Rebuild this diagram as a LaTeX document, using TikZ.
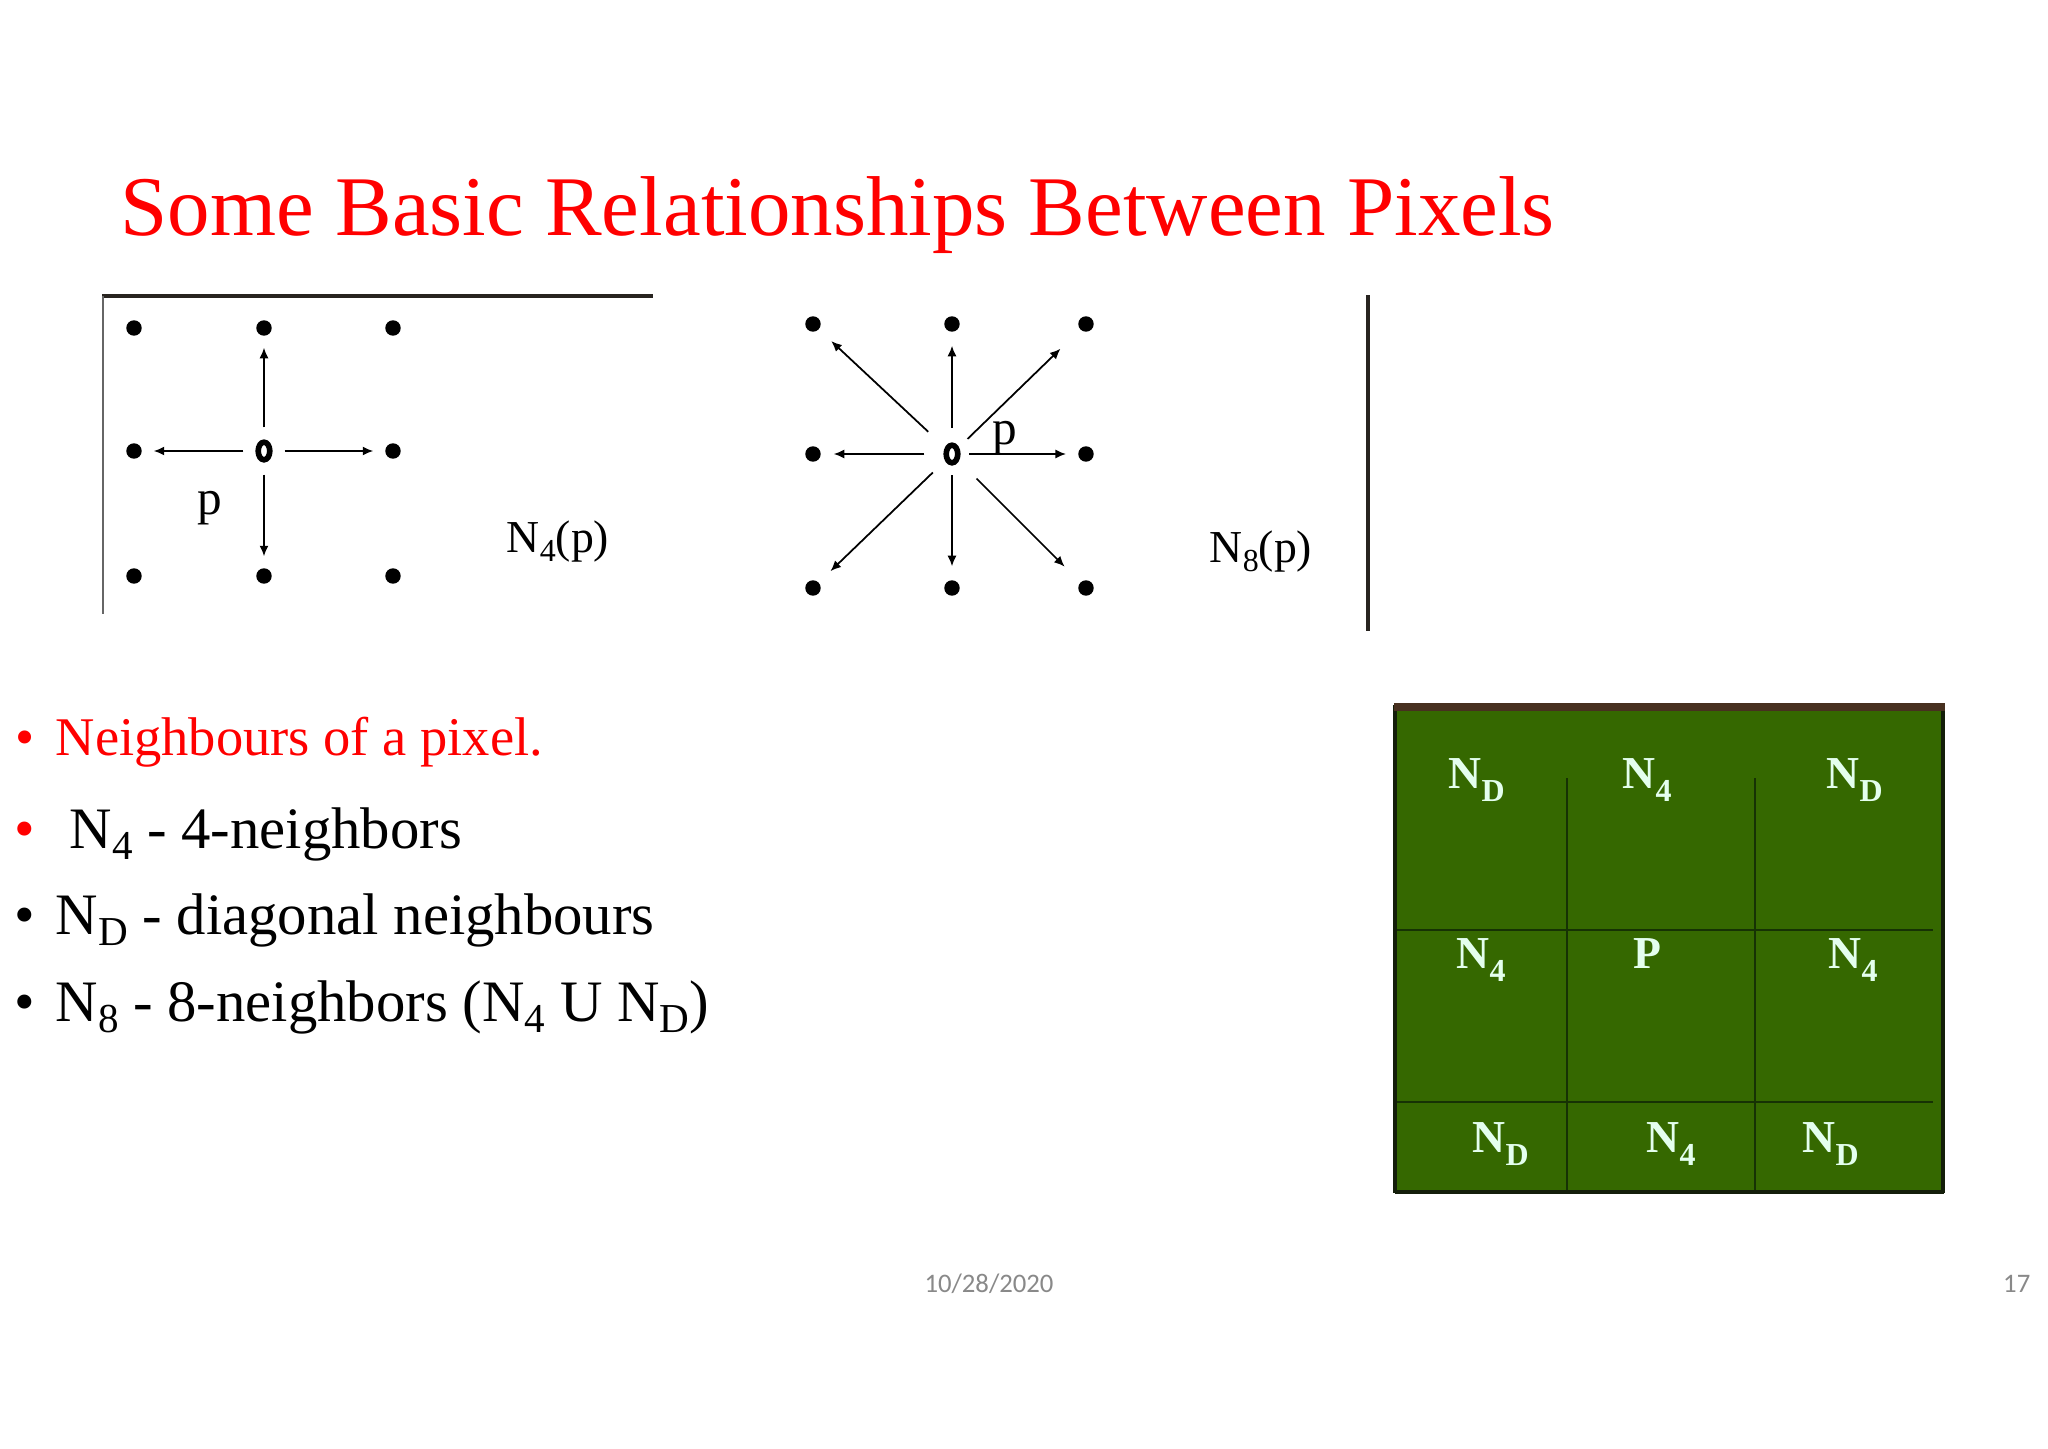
\documentclass[tikz,border=0pt]{standalone}
\usepackage{fontspec}
\usepackage{graphicx}
\setmainfont{Liberation Serif}
\newfontfamily\footfont{Carlito}
\usetikzlibrary{arrows.meta,shapes.geometric}
\definecolor{titlered}{RGB}{255,0,0}
\definecolor{gridgreen}{RGB}{53,104,0}
\definecolor{gridline}{RGB}{22,50,4}
\definecolor{gridtop}{RGB}{72,48,32}
\definecolor{gridedge}{RGB}{20,30,10}
\definecolor{labelmint}{RGB}{228,255,238}
\definecolor{footgray}{RGB}{137,137,137}
\definecolor{frameline}{RGB}{40,36,32}
\newcommand\fsz[1]{\fontsize{#1}{#1}\selectfont}
\newcommand\lowsub[2][0.2em]{\raisebox{-#1}{\scalebox{0.7}{#2}}}
\begin{document}
\begin{tikzpicture}[x=0.01cm,y=-0.01cm,
  dot/.style={circle,fill=black,inner sep=0pt,minimum size=4.4pt},
  ring/.style={ellipse,draw=black,line width=1.6pt,minimum width=3.3pt,minimum height=5pt,inner sep=0pt},
  arr/.style={-{Latex[length=3pt,width=2.6pt]},line width=0.5pt},
  txt/.style={inner sep=0pt,anchor=base west},
  bul/.style={inner sep=0pt,anchor=base},
  lab/.style={inner sep=0pt,anchor=center,font=\fsz{13}},
  plab/.style={inner sep=0pt,anchor=center,font=\fsz{14}},
  glab/.style={inner sep=0pt,anchor=base west,font=\bfseries\fsz{13},text=labelmint},
  foot/.style={inner sep=0pt,font=\footfont\fsz{7.6},text=footgray}
]
\useasboundingbox[fill=white] (0,0) rectangle (2048,1448);

% title
\node[txt,text=titlered,font=\fsz{24.15}] (title) at (120,235) {Some Basic Relationships Between Pixels};

% ---------- N4 diagram ----------
\draw[line width=1pt,frameline] (102,296) -- (653,296);
\draw[line width=0.6pt,black!60] (103,296) -- (103,614);
\node[dot] (a11) at (134,328) {};
\node[dot] (a12) at (264,328) {};
\node[dot] (a13) at (393,328) {};
\node[dot] (a21) at (134,451) {};
\node[ring] (a22) at (264,451) {};
\node[dot] (a23) at (393,451) {};
\node[dot] (a31) at (134,576) {};
\node[dot] (a32) at (264,576) {};
\node[dot] (a33) at (393,576) {};
\begin{scope}[every path/.style={arr,shorten <=3.4pt,shorten >=3.2pt}]
\draw (a22) -- (a12);
\draw (a22) -- (a32);
\draw (a22) -- (a21);
\draw (a22) -- (a23);
\end{scope}
\node[plab] (p4) at (210,508) {p};
\node[lab] (n4p) at (558,541) {N\lowsub{4}(p)};

% ---------- N8 diagram ----------
\node[dot] (b11) at (813,324) {};
\node[dot] (b12) at (952,324) {};
\node[dot] (b13) at (1086,324) {};
\node[dot] (b21) at (813,454) {};
\node[ring] (b22) at (952,454) {};
\node[dot] (b23) at (1086,454) {};
\node[dot] (b31) at (813,588) {};
\node[dot] (b32) at (952,588) {};
\node[dot] (b33) at (1086,588) {};
\draw[arr,shorten <=4.2pt,shorten >=3.8pt] (b22) -- (b12);
\draw[arr,shorten <=2.8pt,shorten >=3.8pt] (b22) -- (b32);
\draw[arr,shorten <=5.4pt,shorten >=3.5pt] (b22) -- (b21);
\draw[arr,shorten <=2.5pt,shorten >=3.3pt] (b22) -- (b23);
\draw[arr,shorten <=6.5pt,shorten >=4.7pt] (b22) -- (b11);
\draw[arr,shorten <=3.4pt,shorten >=7.7pt] (b22) -- (b13);
\draw[arr,shorten <=4.8pt,shorten >=4.5pt] (b22) -- (b31);
\draw[arr,shorten <=7.1pt,shorten >=6.2pt] (b22) -- (b33);
\node[plab] (p8) at (1005,438) {p};
\node[lab] (n8p) at (1261,551) {N\lowsub{8}(p)};
\draw[line width=1.2pt,frameline] (1368,295) -- (1368,631);

% ---------- bullets ----------
\node[bul,text=titlered,font=\fsz{15.5}] (b1) at (25,755) {•};
\node[txt,text=titlered,font=\fsz{15.5}] (t1) at (55,755) {Neighbours of a pixel.};
\node[bul,text=titlered,font=\fsz{16.7}] (b2) at (25,848) {•};
\node[txt,font=\fsz{16.7}] (t2) at (69,848) {N\lowsub{4} - 4-neighbors};
\node[bul,font=\fsz{16.7}] (b3) at (25,934) {•};
\node[txt,font=\fsz{16.7}] (t3) at (55,934) {N\lowsub{D} - diagonal neighbours};
\node[bul,font=\fsz{16.7}] (b4) at (25,1021) {•};
\node[txt,font=\fsz{16.7}] (t4) at (55,1021) {N\lowsub{8} - 8-neighbors (N\lowsub{4} U N\lowsub{D})};

% ---------- green grid ----------
\fill[gridgreen] (1395,705) rectangle (1944,1192);
\draw[gridline,line width=0.55pt] (1567,778) -- (1567,1192);
\draw[gridline,line width=0.55pt] (1755,778) -- (1755,1192);
\draw[gridline,line width=0.55pt] (1395,930) -- (1933,930);
\draw[gridline,line width=0.55pt] (1395,1102) -- (1933,1102);
\draw[gridedge,line width=0.9pt] (1395,705) -- (1395,1193);
\draw[gridedge,line width=1.2pt] (1943,705) -- (1943,1193);
\draw[gridedge,line width=0.9pt] (1395,1192) -- (1944,1192);
\draw[gridtop,line width=2.3pt] (1394,707) -- (1945,707);
\node[glab] (g11) at (1448,788) {N\lowsub[0.3em]{D}};
\node[glab] (g12) at (1622,788) {N\lowsub[0.3em]{4}};
\node[glab] (g13) at (1826,788) {N\lowsub[0.3em]{D}};
\node[glab] (g21) at (1456,968) {N\lowsub[0.3em]{4}};
\node[glab] (g22) at (1633,968) {P};
\node[glab] (g23) at (1828,968) {N\lowsub[0.3em]{4}};
\node[glab] (g31) at (1472,1152) {N\lowsub[0.3em]{D}};
\node[glab] (g32) at (1646,1152) {N\lowsub[0.3em]{4}};
\node[glab] (g33) at (1802,1152) {N\lowsub[0.3em]{D}};

% ---------- footer ----------
\node[foot,anchor=base] (date) at (989,1292) {10/28/2020};
\node[foot,anchor=base east] (pg) at (2031,1292) {17};
\end{tikzpicture}
\end{document}
